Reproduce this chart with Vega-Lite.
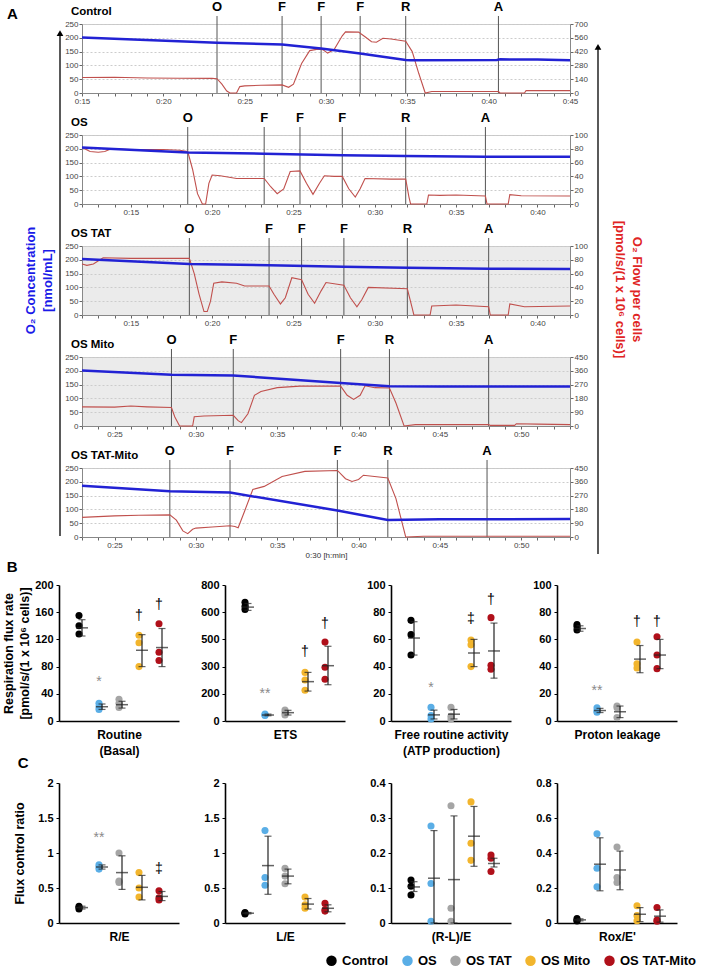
{
"$schema": "https://vega.github.io/schema/vega-lite/v6.json",
"padding": {"left": 2, "top": 0, "right": 0, "bottom": 0},
"background": "white",
"datasets": {
"pts": [
{"m":"Routine","g":"Control","v":155},{"m":"Routine","g":"Control","v":140},{"m":"Routine","g":"Control","v":128},
{"m":"Routine","g":"OS","v":26},{"m":"Routine","g":"OS","v":21},{"m":"Routine","g":"OS","v":17},
{"m":"Routine","g":"OS TAT","v":32},{"m":"Routine","g":"OS TAT","v":26},{"m":"Routine","g":"OS TAT","v":20},
{"m":"Routine","g":"OS Mito","v":126},{"m":"Routine","g":"OS Mito","v":115},{"m":"Routine","g":"OS Mito","v":80},
{"m":"Routine","g":"OS TAT-Mito","v":143},{"m":"Routine","g":"OS TAT-Mito","v":101},{"m":"Routine","g":"OS TAT-Mito","v":89},
{"m":"ETS","g":"Control","v":655},{"m":"ETS","g":"Control","v":632},{"m":"ETS","g":"Control","v":615},
{"m":"ETS","g":"OS","v":38},{"m":"ETS","g":"OS","v":33},{"m":"ETS","g":"OS","v":30},
{"m":"ETS","g":"OS TAT","v":60},{"m":"ETS","g":"OS TAT","v":46},{"m":"ETS","g":"OS TAT","v":33},
{"m":"ETS","g":"OS Mito","v":268},{"m":"ETS","g":"OS Mito","v":226},{"m":"ETS","g":"OS Mito","v":170},
{"m":"ETS","g":"OS TAT-Mito","v":435},{"m":"ETS","g":"OS TAT-Mito","v":296},{"m":"ETS","g":"OS TAT-Mito","v":230},
{"m":"FRA","g":"Control","v":74},{"m":"FRA","g":"Control","v":63.5},{"m":"FRA","g":"Control","v":48.5},
{"m":"FRA","g":"OS","v":10},{"m":"FRA","g":"OS","v":4},{"m":"FRA","g":"OS","v":1.5},
{"m":"FRA","g":"OS TAT","v":10},{"m":"FRA","g":"OS TAT","v":3.5},{"m":"FRA","g":"OS TAT","v":1.5},
{"m":"FRA","g":"OS Mito","v":59.5},{"m":"FRA","g":"OS Mito","v":56},{"m":"FRA","g":"OS Mito","v":40},
{"m":"FRA","g":"OS TAT-Mito","v":76},{"m":"FRA","g":"OS TAT-Mito","v":41},{"m":"FRA","g":"OS TAT-Mito","v":38},
{"m":"PL","g":"Control","v":71},{"m":"PL","g":"Control","v":69.5},{"m":"PL","g":"Control","v":67},
{"m":"PL","g":"OS","v":9.8},{"m":"PL","g":"OS","v":7.5},{"m":"PL","g":"OS","v":6.5},
{"m":"PL","g":"OS TAT","v":11},{"m":"PL","g":"OS TAT","v":9.8},{"m":"PL","g":"OS TAT","v":2.5},
{"m":"PL","g":"OS Mito","v":58},{"m":"PL","g":"OS Mito","v":42},{"m":"PL","g":"OS Mito","v":39},
{"m":"PL","g":"OS TAT-Mito","v":62},{"m":"PL","g":"OS TAT-Mito","v":48.5},{"m":"PL","g":"OS TAT-Mito","v":38.5},
{"m":"RE","g":"Control","v":0.24},{"m":"RE","g":"Control","v":0.22},{"m":"RE","g":"Control","v":0.2},
{"m":"RE","g":"OS","v":0.83},{"m":"RE","g":"OS","v":0.8},{"m":"RE","g":"OS","v":0.77},
{"m":"RE","g":"OS TAT","v":1.0},{"m":"RE","g":"OS TAT","v":0.6},{"m":"RE","g":"OS TAT","v":0.58},
{"m":"RE","g":"OS Mito","v":0.72},{"m":"RE","g":"OS Mito","v":0.5},{"m":"RE","g":"OS Mito","v":0.37},
{"m":"RE","g":"OS TAT-Mito","v":0.46},{"m":"RE","g":"OS TAT-Mito","v":0.36},{"m":"RE","g":"OS TAT-Mito","v":0.33},
{"m":"LE","g":"Control","v":0.15},{"m":"LE","g":"Control","v":0.14},{"m":"LE","g":"Control","v":0.13},
{"m":"LE","g":"OS","v":1.32},{"m":"LE","g":"OS","v":0.65},{"m":"LE","g":"OS","v":0.54},
{"m":"LE","g":"OS TAT","v":0.78},{"m":"LE","g":"OS TAT","v":0.67},{"m":"LE","g":"OS TAT","v":0.56},
{"m":"LE","g":"OS Mito","v":0.37},{"m":"LE","g":"OS Mito","v":0.26},{"m":"LE","g":"OS Mito","v":0.21},
{"m":"LE","g":"OS TAT-Mito","v":0.28},{"m":"LE","g":"OS TAT-Mito","v":0.19},{"m":"LE","g":"OS TAT-Mito","v":0.17},
{"m":"RLE","g":"Control","v":0.123},{"m":"RLE","g":"Control","v":0.105},{"m":"RLE","g":"Control","v":0.08},
{"m":"RLE","g":"OS","v":0.277},{"m":"RLE","g":"OS","v":0.113},{"m":"RLE","g":"OS","v":0.005},
{"m":"RLE","g":"OS TAT","v":0.335},{"m":"RLE","g":"OS TAT","v":0.042},{"m":"RLE","g":"OS TAT","v":0.005},
{"m":"RLE","g":"OS Mito","v":0.346},{"m":"RLE","g":"OS Mito","v":0.228},{"m":"RLE","g":"OS Mito","v":0.179},
{"m":"RLE","g":"OS TAT-Mito","v":0.194},{"m":"RLE","g":"OS TAT-Mito","v":0.185},{"m":"RLE","g":"OS TAT-Mito","v":0.147},
{"m":"ROX","g":"Control","v":0.025},{"m":"ROX","g":"Control","v":0.015},{"m":"ROX","g":"Control","v":0.012},
{"m":"ROX","g":"OS","v":0.51},{"m":"ROX","g":"OS","v":0.313},{"m":"ROX","g":"OS","v":0.207},
{"m":"ROX","g":"OS TAT","v":0.434},{"m":"ROX","g":"OS TAT","v":0.26},{"m":"ROX","g":"OS TAT","v":0.231},
{"m":"ROX","g":"OS Mito","v":0.099},{"m":"ROX","g":"OS Mito","v":0.042},{"m":"ROX","g":"OS Mito","v":0.013},
{"m":"ROX","g":"OS TAT-Mito","v":0.089},{"m":"ROX","g":"OS TAT-Mito","v":0.017},{"m":"ROX","g":"OS TAT-Mito","v":0.01}
],
"sum": [
{"m":"Routine","g":"Control","v":137,"lo":125,"hi":149},{"m":"Routine","g":"OS","v":21,"lo":17,"hi":25},{"m":"Routine","g":"OS TAT","v":24,"lo":19,"hi":29},{"m":"Routine","g":"OS Mito","v":104,"lo":80,"hi":127},{"m":"Routine","g":"OS TAT-Mito","v":108,"lo":80,"hi":136},
{"m":"ETS","g":"Control","v":628,"lo":610,"hi":648},{"m":"ETS","g":"OS","v":33,"lo":29,"hi":38},{"m":"ETS","g":"OS TAT","v":46,"lo":33,"hi":59},{"m":"ETS","g":"OS Mito","v":217,"lo":165,"hi":268},{"m":"ETS","g":"OS TAT-Mito","v":305,"lo":200,"hi":412},
{"m":"FRA","g":"Control","v":61,"lo":48.5,"hi":73},{"m":"FRA","g":"OS","v":4.5,"lo":1.5,"hi":8},{"m":"FRA","g":"OS TAT","v":5,"lo":1.5,"hi":8.5},{"m":"FRA","g":"OS Mito","v":50,"lo":40,"hi":60},{"m":"FRA","g":"OS TAT-Mito","v":51.5,"lo":31.5,"hi":72},
{"m":"PL","g":"Control","v":68,"lo":66,"hi":70},{"m":"PL","g":"OS","v":7.7,"lo":6.2,"hi":9.3},{"m":"PL","g":"OS TAT","v":6.8,"lo":2.5,"hi":11},{"m":"PL","g":"OS Mito","v":45.5,"lo":35.5,"hi":55.5},{"m":"PL","g":"OS TAT-Mito","v":48.5,"lo":38.5,"hi":60},
{"m":"RE","g":"Control","v":0.22,"lo":0.2,"hi":0.24},{"m":"RE","g":"OS","v":0.8,"lo":0.77,"hi":0.83},{"m":"RE","g":"OS TAT","v":0.72,"lo":0.48,"hi":0.96},{"m":"RE","g":"OS Mito","v":0.51,"lo":0.33,"hi":0.68},{"m":"RE","g":"OS TAT-Mito","v":0.38,"lo":0.32,"hi":0.45},
{"m":"LE","g":"Control","v":0.14,"lo":0.13,"hi":0.15},{"m":"LE","g":"OS","v":0.82,"lo":0.41,"hi":1.24},{"m":"LE","g":"OS TAT","v":0.67,"lo":0.56,"hi":0.77},{"m":"LE","g":"OS Mito","v":0.27,"lo":0.2,"hi":0.35},{"m":"LE","g":"OS TAT-Mito","v":0.21,"lo":0.16,"hi":0.26},
{"m":"RLE","g":"Control","v":0.103,"lo":0.09,"hi":0.118},{"m":"RLE","g":"OS","v":0.128,"lo":0,"hi":0.264},{"m":"RLE","g":"OS TAT","v":0.124,"lo":0,"hi":0.306},{"m":"RLE","g":"OS Mito","v":0.248,"lo":0.162,"hi":0.333},{"m":"RLE","g":"OS TAT-Mito","v":0.17,"lo":0.16,"hi":0.185},
{"m":"ROX","g":"Control","v":0.018,"lo":0.012,"hi":0.024},{"m":"ROX","g":"OS","v":0.336,"lo":0.184,"hi":0.487},{"m":"ROX","g":"OS TAT","v":0.303,"lo":0.19,"hi":0.411},{"m":"ROX","g":"OS Mito","v":0.05,"lo":0.008,"hi":0.088},{"m":"ROX","g":"OS TAT-Mito","v":0.039,"lo":0.005,"hi":0.075}
],
"sig": [
{"m":"Routine","g":"OS","v":57,"s":"*"},{"m":"Routine","g":"OS Mito","v":155,"s":"†"},{"m":"Routine","g":"OS TAT-Mito","v":170,"s":"†"},
{"m":"ETS","g":"OS","v":148,"s":"**"},{"m":"ETS","g":"OS Mito","v":380,"s":"†"},{"m":"ETS","g":"OS TAT-Mito","v":537,"s":"†"},
{"m":"FRA","g":"OS","v":24.5,"s":"*"},{"m":"FRA","g":"OS Mito","v":75,"s":"‡"},{"m":"FRA","g":"OS TAT-Mito","v":89,"s":"†"},
{"m":"PL","g":"OS","v":22,"s":"**"},{"m":"PL","g":"OS Mito","v":72.5,"s":"†"},{"m":"PL","g":"OS TAT-Mito","v":72.5,"s":"†"},
{"m":"RE","g":"OS","v":1.22,"s":"**"},{"m":"RE","g":"OS TAT-Mito","v":0.77,"s":"‡"}
]
},
"spacing": 0,
"vconcat": [
{
"spacing": 0,
"hconcat": [
{
"width": 2, "height": 512,
"title": {"text": "A", "anchor": "start", "fontSize": 15, "fontWeight": "bold", "dx": -17, "offset": 2},
"data": {"values": [{"k": "O2 concentration axis"}]},
"encoding": {"x": {"datum": 0.5, "type": "quantitative", "scale": {"domain": [0, 1]}, "axis": null}},
"layer": [
{"mark": {"type": "rule", "color": "black", "strokeWidth": 1.3},
 "encoding": {"y": {"datum": 0, "type": "quantitative", "scale": {"domain": [0, 1], "nice": false}, "axis": {"title": ["O₂ Concentration", "[nmol/mL]"], "titleColor": "#1a1ae8", "titleFontSize": 13, "titleFontWeight": "bold", "titlePadding": 5, "titleLineHeight": 17, "labels": false, "ticks": false, "domain": false, "grid": false}}, "y2": {"datum": 0.982}}},
{"mark": {"type": "point", "shape": "triangle-up", "filled": true, "color": "black", "size": 45, "opacity": 1},
 "encoding": {"y": {"datum": 0.982, "type": "quantitative"}}}
]
},
{
"spacing": 5,
"vconcat": [
{
"width": 488, "height": 69,
"view": {"stroke": "#c8c8c8"},
"layer": [
{"data": {"values": [{"panel": "Control"}]}, "mark": {"type": "text", "fontSize": 11.5, "fontWeight": "bold", "align": "left", "baseline": "middle", "color": "black"},
 "encoding": {"x": {"datum": 14.32, "type": "quantitative", "scale": {"domain": [15, 45], "nice": false, "zero": false}, "axis": {"title": null, "grid": false, "values": [15,16,17,18,19,20,21,22,23,24,25,26,27,28,29,30,31,32,33,34,35,36,37,38,39,40,41,42,43,44,45], "labelExpr": "datum.value % 5 === 0 ? '0:' + format(datum.value, '02d') : ''", "labelFontSize": 8, "labelColor": "#444", "tickSize": 3, "tickColor": "#666", "domainColor": "#888", "labelPadding": 1, "labelOverlap": false, "labelFlush": false}}, "y": {"datum": 293, "type": "quantitative", "scale": {"domain": [0, 250], "nice": false}, "axis": null}, "text": {"field": "panel"}}},
{"data": {"values": [{"t":23.3,"lab":"O"},{"t":27.3,"lab":"F"},{"t":29.7,"lab":"F"},{"t":32.1,"lab":"F"},{"t":34.9,"lab":"R"},{"t":40.6,"lab":"A"}]},
 "mark": {"type": "rule", "color": "#555", "strokeWidth": 1},
 "encoding": {"x": {"field": "t", "type": "quantitative", "scale": {"domain": [15, 45], "nice": false, "zero": false}, "axis": {"title": null, "grid": false, "values": [15,16,17,18,19,20,21,22,23,24,25,26,27,28,29,30,31,32,33,34,35,36,37,38,39,40,41,42,43,44,45], "labelExpr": "datum.value % 5 === 0 ? '0:' + format(datum.value, '02d') : ''", "labelFontSize": 8, "labelColor": "#444", "tickSize": 3, "tickColor": "#666", "domainColor": "#888", "labelPadding": 1, "labelOverlap": false, "labelFlush": false}}, "y": {"datum": 0, "type": "quantitative", "scale": {"domain": [0, 250], "nice": false}, "axis": null}, "y2": {"datum": 279}}},
{"data": {"values": [{"t":23.3,"lab":"O"},{"t":27.3,"lab":"F"},{"t":29.7,"lab":"F"},{"t":32.1,"lab":"F"},{"t":34.9,"lab":"R"},{"t":40.6,"lab":"A"}]},
 "mark": {"type": "text", "fontSize": 13, "fontWeight": "bold", "baseline": "middle", "color": "black"},
 "encoding": {"x": {"field": "t", "type": "quantitative", "scale": {"domain": [15, 45], "nice": false, "zero": false}, "axis": {"title": null, "grid": false, "values": [15,16,17,18,19,20,21,22,23,24,25,26,27,28,29,30,31,32,33,34,35,36,37,38,39,40,41,42,43,44,45], "labelExpr": "datum.value % 5 === 0 ? '0:' + format(datum.value, '02d') : ''", "labelFontSize": 8, "labelColor": "#444", "tickSize": 3, "tickColor": "#666", "domainColor": "#888", "labelPadding": 1, "labelOverlap": false, "labelFlush": false}}, "y": {"datum": 312, "type": "quantitative", "scale": {"domain": [0, 250], "nice": false}, "axis": null}, "text": {"field": "lab"}}},
{"data": {"values": [{"t":15,"v":157},{"t":17,"v":160},{"t":19,"v":152},{"t":21,"v":150},{"t":23,"v":148},{"t":23.3,"v":145},{"t":23.6,"v":90},{"t":23.9,"v":20},{"t":24.1,"v":0},{"t":24.5,"v":0},{"t":24.7,"v":65},{"t":25,"v":72},{"t":26,"v":78},{"t":27.3,"v":82},{"t":27.7,"v":58},{"t":28,"v":90},{"t":28.5,"v":300},{"t":29,"v":430},{"t":29.5,"v":445},{"t":29.8,"v":440},{"t":30.1,"v":405},{"t":30.5,"v":440},{"t":31,"v":580},{"t":31.2,"v":620},{"t":32,"v":618},{"t":32.4,"v":570},{"t":32.8,"v":520},{"t":33.1,"v":515},{"t":33.5,"v":555},{"t":34,"v":548},{"t":34.9,"v":525},{"t":35.3,"v":420},{"t":35.7,"v":200},{"t":36.1,"v":0},{"t":36.5,"v":15},{"t":40.6,"v":15},{"t":40.7,"v":0},{"t":42.2,"v":0},{"t":42.3,"v":24},{"t":45,"v":24}]},
 "mark": {"type": "line", "color": "#c0504d", "strokeWidth": 1.1},
 "encoding": {"x": {"field": "t", "type": "quantitative", "scale": {"domain": [15, 45], "nice": false, "zero": false}, "axis": {"title": null, "grid": false, "values": [15,16,17,18,19,20,21,22,23,24,25,26,27,28,29,30,31,32,33,34,35,36,37,38,39,40,41,42,43,44,45], "labelExpr": "datum.value % 5 === 0 ? '0:' + format(datum.value, '02d') : ''", "labelFontSize": 8, "labelColor": "#444", "tickSize": 3, "tickColor": "#666", "domainColor": "#888", "labelPadding": 1, "labelOverlap": false, "labelFlush": false}},
  "y": {"field": "v", "type": "quantitative", "scale": {"domain": [0, 700], "nice": false}, "axis": {"orient": "right", "title": null, "values": [0,140,280,420,560,700], "labelFontSize": 8, "labelColor": "#444", "tickSize": 3, "tickColor": "#666", "domainColor": "#888", "labelPadding": 1, "grid": false}}}},
{"data": {"values": [{"t":15,"v":201},{"t":23.3,"v":182},{"t":27.3,"v":176},{"t":29.7,"v":161},{"t":32.1,"v":143},{"t":34.9,"v":120},{"t":35.2,"v":119},{"t":40.5,"v":120},{"t":40.7,"v":122},{"t":43,"v":121},{"t":45,"v":119}]},
 "mark": {"type": "line", "color": "#2222d4", "strokeWidth": 2.5},
 "encoding": {"x": {"field": "t", "type": "quantitative", "scale": {"domain": [15, 45], "nice": false, "zero": false}, "axis": {"title": null, "grid": false, "values": [15,16,17,18,19,20,21,22,23,24,25,26,27,28,29,30,31,32,33,34,35,36,37,38,39,40,41,42,43,44,45], "labelExpr": "datum.value % 5 === 0 ? '0:' + format(datum.value, '02d') : ''", "labelFontSize": 8, "labelColor": "#444", "tickSize": 3, "tickColor": "#666", "domainColor": "#888", "labelPadding": 1, "labelOverlap": false, "labelFlush": false}}, "y": {"field": "v", "type": "quantitative", "scale": {"domain": [0, 250], "nice": false}, "axis": {"title": null, "values": [0,50,100,150,200,250], "labelFontSize": 8, "labelColor": "#444", "tickSize": 3, "tickColor": "#666", "domainColor": "#888", "labelPadding": 1, "grid": true, "gridColor": "#cccccc", "gridDash": [2, 2]}}}}
],
"resolve": {"scale": {"y": "independent"}}
},
{
"width": 488, "height": 69,
"view": {"stroke": "#c8c8c8"},
"layer": [
{"data": {"values": [{"panel": "OS"}]}, "mark": {"type": "text", "fontSize": 11.5, "fontWeight": "bold", "align": "left", "baseline": "middle", "color": "black"},
 "encoding": {"x": {"datum": 11.32, "type": "quantitative", "scale": {"domain": [12, 42], "nice": false, "zero": false}, "axis": {"title": null, "grid": false, "values": [12,13,14,15,16,17,18,19,20,21,22,23,24,25,26,27,28,29,30,31,32,33,34,35,36,37,38,39,40,41,42], "labelExpr": "datum.value % 5 === 0 ? '0:' + format(datum.value, '02d') : ''", "labelFontSize": 8, "labelColor": "#444", "tickSize": 3, "tickColor": "#666", "domainColor": "#888", "labelPadding": 1, "labelOverlap": false, "labelFlush": false}}, "y": {"datum": 293, "type": "quantitative", "scale": {"domain": [0, 250], "nice": false}, "axis": null}, "text": {"field": "panel"}}},
{"data": {"values": [{"t":18.5,"lab":"O"},{"t":23.2,"lab":"F"},{"t":25.4,"lab":"F"},{"t":28.0,"lab":"F"},{"t":31.9,"lab":"R"},{"t":36.8,"lab":"A"}]},
 "mark": {"type": "rule", "color": "#555", "strokeWidth": 1},
 "encoding": {"x": {"field": "t", "type": "quantitative", "scale": {"domain": [12, 42], "nice": false, "zero": false}, "axis": {"title": null, "grid": false, "values": [12,13,14,15,16,17,18,19,20,21,22,23,24,25,26,27,28,29,30,31,32,33,34,35,36,37,38,39,40,41,42], "labelExpr": "datum.value % 5 === 0 ? '0:' + format(datum.value, '02d') : ''", "labelFontSize": 8, "labelColor": "#444", "tickSize": 3, "tickColor": "#666", "domainColor": "#888", "labelPadding": 1, "labelOverlap": false, "labelFlush": false}}, "y": {"datum": 0, "type": "quantitative", "scale": {"domain": [0, 250], "nice": false}, "axis": null}, "y2": {"datum": 279}}},
{"data": {"values": [{"t":18.5,"lab":"O"},{"t":23.2,"lab":"F"},{"t":25.4,"lab":"F"},{"t":28.0,"lab":"F"},{"t":31.9,"lab":"R"},{"t":36.8,"lab":"A"}]},
 "mark": {"type": "text", "fontSize": 13, "fontWeight": "bold", "baseline": "middle", "color": "black"},
 "encoding": {"x": {"field": "t", "type": "quantitative", "scale": {"domain": [12, 42], "nice": false, "zero": false}, "axis": {"title": null, "grid": false, "values": [12,13,14,15,16,17,18,19,20,21,22,23,24,25,26,27,28,29,30,31,32,33,34,35,36,37,38,39,40,41,42], "labelExpr": "datum.value % 5 === 0 ? '0:' + format(datum.value, '02d') : ''", "labelFontSize": 8, "labelColor": "#444", "tickSize": 3, "tickColor": "#666", "domainColor": "#888", "labelPadding": 1, "labelOverlap": false, "labelFlush": false}}, "y": {"datum": 312, "type": "quantitative", "scale": {"domain": [0, 250], "nice": false}, "axis": null}, "text": {"field": "lab"}}},
{"data": {"values": [{"t":12,"v":82},{"t":12.5,"v":76},{"t":13,"v":75},{"t":13.4,"v":76},{"t":13.8,"v":80},{"t":15,"v":79},{"t":17,"v":79},{"t":18,"v":78},{"t":18.5,"v":76},{"t":18.8,"v":50},{"t":19.1,"v":15},{"t":19.4,"v":0},{"t":19.6,"v":0},{"t":19.8,"v":30},{"t":20,"v":42},{"t":20.5,"v":41},{"t":21.5,"v":37},{"t":22.5,"v":37},{"t":23.2,"v":37},{"t":23.6,"v":25},{"t":24,"v":15},{"t":24.4,"v":22},{"t":24.8,"v":47},{"t":25.4,"v":48},{"t":25.8,"v":30},{"t":26.2,"v":14},{"t":26.6,"v":30},{"t":26.9,"v":41},{"t":27.5,"v":40},{"t":28,"v":40},{"t":28.4,"v":22},{"t":28.8,"v":10},{"t":29.1,"v":22},{"t":29.4,"v":37},{"t":31,"v":36},{"t":31.9,"v":36},{"t":32.1,"v":10},{"t":32.2,"v":0},{"t":33.2,"v":0},{"t":33.3,"v":13},{"t":34,"v":12.5},{"t":35,"v":13},{"t":36.8,"v":11.5},{"t":36.9,"v":0},{"t":38.2,"v":0},{"t":38.3,"v":13.5},{"t":39,"v":12},{"t":42,"v":11.5}]},
 "mark": {"type": "line", "color": "#c0504d", "strokeWidth": 1.1},
 "encoding": {"x": {"field": "t", "type": "quantitative", "scale": {"domain": [12, 42], "nice": false, "zero": false}, "axis": {"title": null, "grid": false, "values": [12,13,14,15,16,17,18,19,20,21,22,23,24,25,26,27,28,29,30,31,32,33,34,35,36,37,38,39,40,41,42], "labelExpr": "datum.value % 5 === 0 ? '0:' + format(datum.value, '02d') : ''", "labelFontSize": 8, "labelColor": "#444", "tickSize": 3, "tickColor": "#666", "domainColor": "#888", "labelPadding": 1, "labelOverlap": false, "labelFlush": false}},
  "y": {"field": "v", "type": "quantitative", "scale": {"domain": [0, 100], "nice": false}, "axis": {"orient": "right", "title": null, "values": [0,20,40,60,80,100], "labelFontSize": 8, "labelColor": "#444", "tickSize": 3, "tickColor": "#666", "domainColor": "#888", "labelPadding": 1, "grid": false}}}},
{"data": {"values": [{"t":12,"v":205},{"t":18.5,"v":187},{"t":23.2,"v":182},{"t":28,"v":177},{"t":31.9,"v":173.5},{"t":36.8,"v":171},{"t":42,"v":171}]},
 "mark": {"type": "line", "color": "#2222d4", "strokeWidth": 2.5},
 "encoding": {"x": {"field": "t", "type": "quantitative", "scale": {"domain": [12, 42], "nice": false, "zero": false}, "axis": {"title": null, "grid": false, "values": [12,13,14,15,16,17,18,19,20,21,22,23,24,25,26,27,28,29,30,31,32,33,34,35,36,37,38,39,40,41,42], "labelExpr": "datum.value % 5 === 0 ? '0:' + format(datum.value, '02d') : ''", "labelFontSize": 8, "labelColor": "#444", "tickSize": 3, "tickColor": "#666", "domainColor": "#888", "labelPadding": 1, "labelOverlap": false, "labelFlush": false}}, "y": {"field": "v", "type": "quantitative", "scale": {"domain": [0, 250], "nice": false}, "axis": {"title": null, "values": [0,50,100,150,200,250], "labelFontSize": 8, "labelColor": "#444", "tickSize": 3, "tickColor": "#666", "domainColor": "#888", "labelPadding": 1, "grid": true, "gridColor": "#cccccc", "gridDash": [2, 2]}}}}
],
"resolve": {"scale": {"y": "independent"}}
},
{
"width": 488, "height": 69,
"view": {"stroke": "#c8c8c8", "fill": "#ebebeb"},
"layer": [
{"data": {"values": [{"panel": "OS TAT"}]}, "mark": {"type": "text", "fontSize": 11.5, "fontWeight": "bold", "align": "left", "baseline": "middle", "color": "black"},
 "encoding": {"x": {"datum": 11.32, "type": "quantitative", "scale": {"domain": [12, 42], "nice": false, "zero": false}, "axis": {"title": null, "grid": false, "values": [12,13,14,15,16,17,18,19,20,21,22,23,24,25,26,27,28,29,30,31,32,33,34,35,36,37,38,39,40,41,42], "labelExpr": "datum.value % 5 === 0 ? '0:' + format(datum.value, '02d') : ''", "labelFontSize": 8, "labelColor": "#444", "tickSize": 3, "tickColor": "#666", "domainColor": "#888", "labelPadding": 1, "labelOverlap": false, "labelFlush": false}}, "y": {"datum": 293, "type": "quantitative", "scale": {"domain": [0, 250], "nice": false}, "axis": null}, "text": {"field": "panel"}}},
{"data": {"values": [{"t":18.6,"lab":"O"},{"t":23.5,"lab":"F"},{"t":25.5,"lab":"F"},{"t":28.1,"lab":"F"},{"t":32.0,"lab":"R"},{"t":37.0,"lab":"A"}]},
 "mark": {"type": "rule", "color": "#555", "strokeWidth": 1},
 "encoding": {"x": {"field": "t", "type": "quantitative", "scale": {"domain": [12, 42], "nice": false, "zero": false}, "axis": {"title": null, "grid": false, "values": [12,13,14,15,16,17,18,19,20,21,22,23,24,25,26,27,28,29,30,31,32,33,34,35,36,37,38,39,40,41,42], "labelExpr": "datum.value % 5 === 0 ? '0:' + format(datum.value, '02d') : ''", "labelFontSize": 8, "labelColor": "#444", "tickSize": 3, "tickColor": "#666", "domainColor": "#888", "labelPadding": 1, "labelOverlap": false, "labelFlush": false}}, "y": {"datum": 0, "type": "quantitative", "scale": {"domain": [0, 250], "nice": false}, "axis": null}, "y2": {"datum": 279}}},
{"data": {"values": [{"t":18.6,"lab":"O"},{"t":23.5,"lab":"F"},{"t":25.5,"lab":"F"},{"t":28.1,"lab":"F"},{"t":32.0,"lab":"R"},{"t":37.0,"lab":"A"}]},
 "mark": {"type": "text", "fontSize": 13, "fontWeight": "bold", "baseline": "middle", "color": "black"},
 "encoding": {"x": {"field": "t", "type": "quantitative", "scale": {"domain": [12, 42], "nice": false, "zero": false}, "axis": {"title": null, "grid": false, "values": [12,13,14,15,16,17,18,19,20,21,22,23,24,25,26,27,28,29,30,31,32,33,34,35,36,37,38,39,40,41,42], "labelExpr": "datum.value % 5 === 0 ? '0:' + format(datum.value, '02d') : ''", "labelFontSize": 8, "labelColor": "#444", "tickSize": 3, "tickColor": "#666", "domainColor": "#888", "labelPadding": 1, "labelOverlap": false, "labelFlush": false}}, "y": {"datum": 312, "type": "quantitative", "scale": {"domain": [0, 250], "nice": false}, "axis": null}, "text": {"field": "lab"}}},
{"data": {"values": [{"t":12,"v":74},{"t":12.3,"v":72},{"t":12.7,"v":74},{"t":13.3,"v":83},{"t":15,"v":82},{"t":17,"v":82},{"t":18.6,"v":82},{"t":18.9,"v":60},{"t":19.2,"v":30},{"t":19.5,"v":5},{"t":19.7,"v":5},{"t":19.9,"v":20},{"t":20.1,"v":46},{"t":20.6,"v":48},{"t":21.5,"v":46},{"t":22,"v":42},{"t":23.5,"v":42},{"t":23.8,"v":30},{"t":24.2,"v":16},{"t":24.5,"v":25},{"t":24.9,"v":54},{"t":25.5,"v":51},{"t":25.9,"v":30},{"t":26.3,"v":17},{"t":26.7,"v":35},{"t":27,"v":47},{"t":28.1,"v":43},{"t":28.5,"v":25},{"t":28.9,"v":12},{"t":29.2,"v":22},{"t":29.6,"v":40},{"t":32,"v":38},{"t":32.3,"v":10},{"t":32.4,"v":0},{"t":33.4,"v":0},{"t":33.5,"v":13},{"t":35,"v":14.5},{"t":37,"v":12},{"t":37.1,"v":0},{"t":38.2,"v":0},{"t":38.3,"v":16},{"t":39.2,"v":12},{"t":42,"v":13}]},
 "mark": {"type": "line", "color": "#c0504d", "strokeWidth": 1.1},
 "encoding": {"x": {"field": "t", "type": "quantitative", "scale": {"domain": [12, 42], "nice": false, "zero": false}, "axis": {"title": null, "grid": false, "values": [12,13,14,15,16,17,18,19,20,21,22,23,24,25,26,27,28,29,30,31,32,33,34,35,36,37,38,39,40,41,42], "labelExpr": "datum.value % 5 === 0 ? '0:' + format(datum.value, '02d') : ''", "labelFontSize": 8, "labelColor": "#444", "tickSize": 3, "tickColor": "#666", "domainColor": "#888", "labelPadding": 1, "labelOverlap": false, "labelFlush": false}},
  "y": {"field": "v", "type": "quantitative", "scale": {"domain": [0, 100], "nice": false}, "axis": {"orient": "right", "title": null, "values": [0,20,40,60,80,100], "labelFontSize": 8, "labelColor": "#444", "tickSize": 3, "tickColor": "#666", "domainColor": "#888", "labelPadding": 1, "grid": false}}}},
{"data": {"values": [{"t":12,"v":203},{"t":18.6,"v":185},{"t":23.5,"v":180},{"t":28.1,"v":175},{"t":32,"v":171},{"t":37,"v":168},{"t":42,"v":167}]},
 "mark": {"type": "line", "color": "#2222d4", "strokeWidth": 2.5},
 "encoding": {"x": {"field": "t", "type": "quantitative", "scale": {"domain": [12, 42], "nice": false, "zero": false}, "axis": {"title": null, "grid": false, "values": [12,13,14,15,16,17,18,19,20,21,22,23,24,25,26,27,28,29,30,31,32,33,34,35,36,37,38,39,40,41,42], "labelExpr": "datum.value % 5 === 0 ? '0:' + format(datum.value, '02d') : ''", "labelFontSize": 8, "labelColor": "#444", "tickSize": 3, "tickColor": "#666", "domainColor": "#888", "labelPadding": 1, "labelOverlap": false, "labelFlush": false}}, "y": {"field": "v", "type": "quantitative", "scale": {"domain": [0, 250], "nice": false}, "axis": {"title": null, "values": [0,50,100,150,200,250], "labelFontSize": 8, "labelColor": "#444", "tickSize": 3, "tickColor": "#666", "domainColor": "#888", "labelPadding": 1, "grid": true, "gridColor": "#cccccc", "gridDash": [2, 2]}}}}
],
"resolve": {"scale": {"y": "independent"}}
},
{
"width": 488, "height": 69,
"view": {"stroke": "#c8c8c8", "fill": "#ebebeb"},
"layer": [
{"data": {"values": [{"panel": "OS Mito"}]}, "mark": {"type": "text", "fontSize": 11.5, "fontWeight": "bold", "align": "left", "baseline": "middle", "color": "black"},
 "encoding": {"x": {"datum": 22.32, "type": "quantitative", "scale": {"domain": [23, 53], "nice": false, "zero": false}, "axis": {"title": null, "grid": false, "values": [23,24,25,26,27,28,29,30,31,32,33,34,35,36,37,38,39,40,41,42,43,44,45,46,47,48,49,50,51,52,53], "labelExpr": "datum.value % 5 === 0 ? '0:' + format(datum.value, '02d') : ''", "labelFontSize": 8, "labelColor": "#444", "tickSize": 3, "tickColor": "#666", "domainColor": "#888", "labelPadding": 1, "labelOverlap": false, "labelFlush": false}}, "y": {"datum": 293, "type": "quantitative", "scale": {"domain": [0, 250], "nice": false}, "axis": null}, "text": {"field": "panel"}}},
{"data": {"values": [{"t":28.5,"lab":"O"},{"t":32.3,"lab":"F"},{"t":38.9,"lab":"F"},{"t":41.9,"lab":"R"},{"t":48.0,"lab":"A"}]},
 "mark": {"type": "rule", "color": "#555", "strokeWidth": 1},
 "encoding": {"x": {"field": "t", "type": "quantitative", "scale": {"domain": [23, 53], "nice": false, "zero": false}, "axis": {"title": null, "grid": false, "values": [23,24,25,26,27,28,29,30,31,32,33,34,35,36,37,38,39,40,41,42,43,44,45,46,47,48,49,50,51,52,53], "labelExpr": "datum.value % 5 === 0 ? '0:' + format(datum.value, '02d') : ''", "labelFontSize": 8, "labelColor": "#444", "tickSize": 3, "tickColor": "#666", "domainColor": "#888", "labelPadding": 1, "labelOverlap": false, "labelFlush": false}}, "y": {"datum": 0, "type": "quantitative", "scale": {"domain": [0, 250], "nice": false}, "axis": null}, "y2": {"datum": 279}}},
{"data": {"values": [{"t":28.5,"lab":"O"},{"t":32.3,"lab":"F"},{"t":38.9,"lab":"F"},{"t":41.9,"lab":"R"},{"t":48.0,"lab":"A"}]},
 "mark": {"type": "text", "fontSize": 13, "fontWeight": "bold", "baseline": "middle", "color": "black"},
 "encoding": {"x": {"field": "t", "type": "quantitative", "scale": {"domain": [23, 53], "nice": false, "zero": false}, "axis": {"title": null, "grid": false, "values": [23,24,25,26,27,28,29,30,31,32,33,34,35,36,37,38,39,40,41,42,43,44,45,46,47,48,49,50,51,52,53], "labelExpr": "datum.value % 5 === 0 ? '0:' + format(datum.value, '02d') : ''", "labelFontSize": 8, "labelColor": "#444", "tickSize": 3, "tickColor": "#666", "domainColor": "#888", "labelPadding": 1, "labelOverlap": false, "labelFlush": false}}, "y": {"datum": 312, "type": "quantitative", "scale": {"domain": [0, 250], "nice": false}, "axis": null}, "text": {"field": "lab"}}},
{"data": {"values": [{"t":23,"v":125},{"t":25,"v":123},{"t":26,"v":130},{"t":27,"v":125},{"t":28.5,"v":121},{"t":28.7,"v":60},{"t":29,"v":0},{"t":29.8,"v":0},{"t":29.9,"v":60},{"t":30.5,"v":65},{"t":32.3,"v":70},{"t":32.6,"v":35},{"t":32.8,"v":22},{"t":33.2,"v":80},{"t":33.6,"v":200},{"t":34,"v":225},{"t":35,"v":250},{"t":36.4,"v":260},{"t":38.9,"v":260},{"t":39.3,"v":200},{"t":39.7,"v":173},{"t":40.1,"v":200},{"t":40.4,"v":262},{"t":41,"v":250},{"t":41.9,"v":248},{"t":42.3,"v":150},{"t":42.8,"v":0},{"t":43.5,"v":9},{"t":48,"v":9},{"t":48.1,"v":4},{"t":49.6,"v":4},{"t":49.7,"v":15},{"t":51,"v":12},{"t":53,"v":9}]},
 "mark": {"type": "line", "color": "#c0504d", "strokeWidth": 1.1},
 "encoding": {"x": {"field": "t", "type": "quantitative", "scale": {"domain": [23, 53], "nice": false, "zero": false}, "axis": {"title": null, "grid": false, "values": [23,24,25,26,27,28,29,30,31,32,33,34,35,36,37,38,39,40,41,42,43,44,45,46,47,48,49,50,51,52,53], "labelExpr": "datum.value % 5 === 0 ? '0:' + format(datum.value, '02d') : ''", "labelFontSize": 8, "labelColor": "#444", "tickSize": 3, "tickColor": "#666", "domainColor": "#888", "labelPadding": 1, "labelOverlap": false, "labelFlush": false}},
  "y": {"field": "v", "type": "quantitative", "scale": {"domain": [0, 450], "nice": false}, "axis": {"orient": "right", "title": null, "values": [0,90,180,270,360,450], "labelFontSize": 8, "labelColor": "#444", "tickSize": 3, "tickColor": "#666", "domainColor": "#888", "labelPadding": 1, "grid": false}}}},
{"data": {"values": [{"t":23,"v":201},{"t":28.5,"v":186},{"t":32.3,"v":183},{"t":38.9,"v":156},{"t":41.9,"v":144},{"t":45,"v":143},{"t":53,"v":143}]},
 "mark": {"type": "line", "color": "#2222d4", "strokeWidth": 2.5},
 "encoding": {"x": {"field": "t", "type": "quantitative", "scale": {"domain": [23, 53], "nice": false, "zero": false}, "axis": {"title": null, "grid": false, "values": [23,24,25,26,27,28,29,30,31,32,33,34,35,36,37,38,39,40,41,42,43,44,45,46,47,48,49,50,51,52,53], "labelExpr": "datum.value % 5 === 0 ? '0:' + format(datum.value, '02d') : ''", "labelFontSize": 8, "labelColor": "#444", "tickSize": 3, "tickColor": "#666", "domainColor": "#888", "labelPadding": 1, "labelOverlap": false, "labelFlush": false}}, "y": {"field": "v", "type": "quantitative", "scale": {"domain": [0, 250], "nice": false}, "axis": {"title": null, "values": [0,50,100,150,200,250], "labelFontSize": 8, "labelColor": "#444", "tickSize": 3, "tickColor": "#666", "domainColor": "#888", "labelPadding": 1, "grid": true, "gridColor": "#cccccc", "gridDash": [2, 2]}}}}
],
"resolve": {"scale": {"y": "independent"}}
},
{
"width": 488, "height": 69,
"view": {"stroke": "#c8c8c8"},
"layer": [
{"data": {"values": [{"panel": "OS TAT-Mito"}]}, "mark": {"type": "text", "fontSize": 11.5, "fontWeight": "bold", "align": "left", "baseline": "middle", "color": "black"},
 "encoding": {"x": {"datum": 22.32, "type": "quantitative", "scale": {"domain": [23, 53], "nice": false, "zero": false}, "axis": {"title": "0:30 [h:min]", "titleFontSize": 8, "titleFontWeight": "normal", "titleColor": "#333", "titlePadding": 2, "grid": false, "values": [23,24,25,26,27,28,29,30,31,32,33,34,35,36,37,38,39,40,41,42,43,44,45,46,47,48,49,50,51,52,53], "labelExpr": "datum.value % 5 === 0 ? '0:' + format(datum.value, '02d') : ''", "labelFontSize": 8, "labelColor": "#444", "tickSize": 3, "tickColor": "#666", "domainColor": "#888", "labelPadding": 1, "labelOverlap": false, "labelFlush": false}}, "y": {"datum": 293, "type": "quantitative", "scale": {"domain": [0, 250], "nice": false}, "axis": null}, "text": {"field": "panel"}}},
{"data": {"values": [{"t":28.4,"lab":"O"},{"t":32.1,"lab":"F"},{"t":38.7,"lab":"F"},{"t":41.8,"lab":"R"},{"t":47.9,"lab":"A"}]},
 "mark": {"type": "rule", "color": "#555", "strokeWidth": 1},
 "encoding": {"x": {"field": "t", "type": "quantitative", "scale": {"domain": [23, 53], "nice": false, "zero": false}, "axis": {"title": "0:30 [h:min]", "titleFontSize": 8, "titleFontWeight": "normal", "titleColor": "#333", "titlePadding": 2, "grid": false, "values": [23,24,25,26,27,28,29,30,31,32,33,34,35,36,37,38,39,40,41,42,43,44,45,46,47,48,49,50,51,52,53], "labelExpr": "datum.value % 5 === 0 ? '0:' + format(datum.value, '02d') : ''", "labelFontSize": 8, "labelColor": "#444", "tickSize": 3, "tickColor": "#666", "domainColor": "#888", "labelPadding": 1, "labelOverlap": false, "labelFlush": false}}, "y": {"datum": 0, "type": "quantitative", "scale": {"domain": [0, 250], "nice": false}, "axis": null}, "y2": {"datum": 279}}},
{"data": {"values": [{"t":28.4,"lab":"O"},{"t":32.1,"lab":"F"},{"t":38.7,"lab":"F"},{"t":41.8,"lab":"R"},{"t":47.9,"lab":"A"}]},
 "mark": {"type": "text", "fontSize": 13, "fontWeight": "bold", "baseline": "middle", "color": "black"},
 "encoding": {"x": {"field": "t", "type": "quantitative", "scale": {"domain": [23, 53], "nice": false, "zero": false}, "axis": {"title": "0:30 [h:min]", "titleFontSize": 8, "titleFontWeight": "normal", "titleColor": "#333", "titlePadding": 2, "grid": false, "values": [23,24,25,26,27,28,29,30,31,32,33,34,35,36,37,38,39,40,41,42,43,44,45,46,47,48,49,50,51,52,53], "labelExpr": "datum.value % 5 === 0 ? '0:' + format(datum.value, '02d') : ''", "labelFontSize": 8, "labelColor": "#444", "tickSize": 3, "tickColor": "#666", "domainColor": "#888", "labelPadding": 1, "labelOverlap": false, "labelFlush": false}}, "y": {"datum": 312, "type": "quantitative", "scale": {"domain": [0, 250], "nice": false}, "axis": null}, "text": {"field": "lab"}}},
{"data": {"values": [{"t":23,"v":128},{"t":25,"v":138},{"t":26.5,"v":142},{"t":28.4,"v":144},{"t":28.8,"v":110},{"t":29.2,"v":40},{"t":29.5,"v":22},{"t":29.8,"v":50},{"t":30,"v":58},{"t":31,"v":65},{"t":32.1,"v":73},{"t":32.4,"v":68},{"t":32.6,"v":60},{"t":33,"v":170},{"t":33.5,"v":310},{"t":34.2,"v":330},{"t":35.3,"v":394},{"t":36.7,"v":428},{"t":38.7,"v":434},{"t":39.2,"v":380},{"t":39.6,"v":362},{"t":40,"v":375},{"t":40.3,"v":403},{"t":41.8,"v":385},{"t":42.3,"v":250},{"t":42.9,"v":0},{"t":44,"v":5},{"t":53,"v":5}]},
 "mark": {"type": "line", "color": "#c0504d", "strokeWidth": 1.1},
 "encoding": {"x": {"field": "t", "type": "quantitative", "scale": {"domain": [23, 53], "nice": false, "zero": false}, "axis": {"title": "0:30 [h:min]", "titleFontSize": 8, "titleFontWeight": "normal", "titleColor": "#333", "titlePadding": 2, "grid": false, "values": [23,24,25,26,27,28,29,30,31,32,33,34,35,36,37,38,39,40,41,42,43,44,45,46,47,48,49,50,51,52,53], "labelExpr": "datum.value % 5 === 0 ? '0:' + format(datum.value, '02d') : ''", "labelFontSize": 8, "labelColor": "#444", "tickSize": 3, "tickColor": "#666", "domainColor": "#888", "labelPadding": 1, "labelOverlap": false, "labelFlush": false}},
  "y": {"field": "v", "type": "quantitative", "scale": {"domain": [0, 450], "nice": false}, "axis": {"orient": "right", "title": null, "values": [0,90,180,270,360,450], "labelFontSize": 8, "labelColor": "#444", "tickSize": 3, "tickColor": "#666", "domainColor": "#888", "labelPadding": 1, "grid": false}}}},
{"data": {"values": [{"t":23,"v":186},{"t":28.4,"v":166},{"t":32.1,"v":161},{"t":38.7,"v":96},{"t":41.8,"v":62},{"t":45,"v":64},{"t":53,"v":65}]},
 "mark": {"type": "line", "color": "#2222d4", "strokeWidth": 2.5},
 "encoding": {"x": {"field": "t", "type": "quantitative", "scale": {"domain": [23, 53], "nice": false, "zero": false}, "axis": {"title": "0:30 [h:min]", "titleFontSize": 8, "titleFontWeight": "normal", "titleColor": "#333", "titlePadding": 2, "grid": false, "values": [23,24,25,26,27,28,29,30,31,32,33,34,35,36,37,38,39,40,41,42,43,44,45,46,47,48,49,50,51,52,53], "labelExpr": "datum.value % 5 === 0 ? '0:' + format(datum.value, '02d') : ''", "labelFontSize": 8, "labelColor": "#444", "tickSize": 3, "tickColor": "#666", "domainColor": "#888", "labelPadding": 1, "labelOverlap": false, "labelFlush": false}}, "y": {"field": "v", "type": "quantitative", "scale": {"domain": [0, 250], "nice": false}, "axis": {"title": null, "values": [0,50,100,150,200,250], "labelFontSize": 8, "labelColor": "#444", "tickSize": 3, "tickColor": "#666", "domainColor": "#888", "labelPadding": 1, "grid": true, "gridColor": "#cccccc", "gridDash": [2, 2]}}}}
],
"resolve": {"scale": {"y": "independent"}}
}
]
},
{
"width": 20, "height": 530,
"data": {"values": [{"k": "O2 flow axis"}]},
"encoding": {"x": {"datum": 0.5, "type": "quantitative", "scale": {"domain": [0, 1]}, "axis": null}},
"layer": [
{"mark": {"type": "rule", "color": "black", "strokeWidth": 1.3},
 "encoding": {"y": {"datum": 0, "type": "quantitative", "scale": {"domain": [0, 1], "nice": false}, "axis": {"orient": "right", "title": ["O₂ Flow per cells", "[pmol/s/(1 x 10⁶ cells)]"], "titleColor": "#e02424", "titleFontSize": 13, "titleFontWeight": "bold", "titlePadding": 4, "titleLineHeight": 17, "labels": false, "ticks": false, "domain": false, "grid": false}}, "y2": {"datum": 0.957}}},
{"mark": {"type": "point", "shape": "triangle-up", "filled": true, "color": "black", "size": 45, "opacity": 1},
 "encoding": {"y": {"datum": 0.957, "type": "quantitative"}}}
]
}
]
},
{
"title": {"text": "B", "anchor": "start", "fontSize": 15, "fontWeight": "bold", "offset": 4, "dx": 4},
"bounds": "flush",
"spacing": 46,
"hconcat": [
{
"width": 120, "height": 136,
"encoding": {
"x": {"field": "g", "type": "nominal", "scale": {"type": "point", "domain": ["Control","OS","OS TAT","OS Mito","OS TAT-Mito"], "padding": 1}, "axis": {"labels": false, "ticks": false, "title": ["Routine", "(Basal)"], "titleFontSize": 12, "titleFontWeight": "bold", "titleColor": "black", "titlePadding": 8, "titleLineHeight": 16, "domainColor": "black", "domainWidth": 1.6}},
"y": {"field": "v", "type": "quantitative", "scale": {"domain": [0, 200], "nice": false}, "axis": {"values": [0,40,80,120,160,200], "format": "~r", "title": ["Respiration flux rate", "[pmol/s/(1 x 10⁶ cells)]"], "labelFontSize": 11, "labelFontWeight": "bold", "labelColor": "black", "domainColor": "black", "domainWidth": 1.6, "tickSize": 3, "tickColor": "black", "grid": false, "labelPadding": 3, "titleFontSize": 12.5, "titleFontWeight": "bold", "titleColor": "black", "titlePadding": 3, "titleLineHeight": 16}}
},
"layer": [
{"data": {"name": "pts"}, "transform": [{"filter": "datum.m === 'Routine'"}], "mark": {"type": "circle", "size": 50, "opacity": 1}, "encoding": {"color": {"field": "g", "type": "nominal", "title": null, "scale": {"domain": ["Control","OS","OS TAT","OS Mito","OS TAT-Mito"], "range": ["#000000","#5aaee6","#a5a5a5","#f2b52d","#b0101a"]}, "legend": {"orient": "none", "legendX": 266, "legendY": 930, "direction": "horizontal", "symbolType": "circle", "symbolSize": 110, "labelFontSize": 13, "labelFontWeight": "bold", "labelColor": "black", "columnPadding": 12, "labelOffset": 4, "padding": 0, "symbolStrokeWidth": 0, "symbolOpacity": 1}}}},
{"data": {"name": "sum"}, "transform": [{"filter": "datum.m === 'Routine'"}], "mark": {"type": "rule", "xOffset": 3, "color": "#222", "strokeWidth": 1.2}, "encoding": {"y": {"field": "lo", "type": "quantitative"}, "y2": {"field": "hi"}}},
{"data": {"name": "sum"}, "transform": [{"filter": "datum.m === 'Routine'"}, {"fold": ["lo", "hi"], "as": ["k", "c"]}], "mark": {"type": "tick", "xOffset": 3, "color": "#222", "size": 7, "thickness": 1.2}, "encoding": {"y": {"field": "c", "type": "quantitative"}}},
{"data": {"name": "sum"}, "transform": [{"filter": "datum.m === 'Routine'"}], "mark": {"type": "tick", "xOffset": 3, "color": "#222", "size": 12, "thickness": 1.5}},
{"data": {"name": "sig"}, "transform": [{"filter": "datum.m === 'Routine'"}], "mark": {"type": "text", "fontSize": 14, "baseline": "middle"}, "encoding": {"text": {"field": "s"}, "color": {"condition": {"test": "datum.s === '*' || datum.s === '**'", "value": "#8a8a8a"}, "value": "#000000"}}}
]
},
{
"width": 120, "height": 136,
"encoding": {
"x": {"field": "g", "type": "nominal", "scale": {"type": "point", "domain": ["Control","OS","OS TAT","OS Mito","OS TAT-Mito"], "padding": 1}, "axis": {"labels": false, "ticks": false, "title": "ETS", "titleFontSize": 12, "titleFontWeight": "bold", "titleColor": "black", "titlePadding": 8, "titleLineHeight": 16, "domainColor": "black", "domainWidth": 1.6}},
"y": {"field": "v", "type": "quantitative", "scale": {"domain": [0, 750], "nice": false}, "axis": {"values": [0,150,300,450,600,750], "format": "~r", "title": null, "labelFontSize": 11, "labelFontWeight": "bold", "labelColor": "black", "domainColor": "black", "domainWidth": 1.6, "tickSize": 3, "tickColor": "black", "grid": false, "labelPadding": 3}}
},
"layer": [
{"data": {"name": "pts"}, "transform": [{"filter": "datum.m === 'ETS'"}], "mark": {"type": "circle", "size": 50, "opacity": 1}, "encoding": {"color": {"field": "g", "type": "nominal", "title": null, "scale": {"domain": ["Control","OS","OS TAT","OS Mito","OS TAT-Mito"], "range": ["#000000","#5aaee6","#a5a5a5","#f2b52d","#b0101a"]}, "legend": {"orient": "none", "legendX": 266, "legendY": 930, "direction": "horizontal", "symbolType": "circle", "symbolSize": 110, "labelFontSize": 13, "labelFontWeight": "bold", "labelColor": "black", "columnPadding": 12, "labelOffset": 4, "padding": 0, "symbolStrokeWidth": 0, "symbolOpacity": 1}}}},
{"data": {"name": "sum"}, "transform": [{"filter": "datum.m === 'ETS'"}], "mark": {"type": "rule", "xOffset": 3, "color": "#222", "strokeWidth": 1.2}, "encoding": {"y": {"field": "lo", "type": "quantitative"}, "y2": {"field": "hi"}}},
{"data": {"name": "sum"}, "transform": [{"filter": "datum.m === 'ETS'"}, {"fold": ["lo", "hi"], "as": ["k", "c"]}], "mark": {"type": "tick", "xOffset": 3, "color": "#222", "size": 7, "thickness": 1.2}, "encoding": {"y": {"field": "c", "type": "quantitative"}}},
{"data": {"name": "sum"}, "transform": [{"filter": "datum.m === 'ETS'"}], "mark": {"type": "tick", "xOffset": 3, "color": "#222", "size": 12, "thickness": 1.5}},
{"data": {"name": "sig"}, "transform": [{"filter": "datum.m === 'ETS'"}], "mark": {"type": "text", "fontSize": 14, "baseline": "middle"}, "encoding": {"text": {"field": "s"}, "color": {"condition": {"test": "datum.s === '*' || datum.s === '**'", "value": "#8a8a8a"}, "value": "#000000"}}}
]
},
{
"width": 120, "height": 136,
"encoding": {
"x": {"field": "g", "type": "nominal", "scale": {"type": "point", "domain": ["Control","OS","OS TAT","OS Mito","OS TAT-Mito"], "padding": 1}, "axis": {"labels": false, "ticks": false, "title": ["Free routine activity", "(ATP production)"], "titleFontSize": 12, "titleFontWeight": "bold", "titleColor": "black", "titlePadding": 8, "titleLineHeight": 16, "domainColor": "black", "domainWidth": 1.6}},
"y": {"field": "v", "type": "quantitative", "scale": {"domain": [0, 100], "nice": false}, "axis": {"values": [0,20,40,60,80,100], "format": "~r", "title": null, "labelFontSize": 11, "labelFontWeight": "bold", "labelColor": "black", "domainColor": "black", "domainWidth": 1.6, "tickSize": 3, "tickColor": "black", "grid": false, "labelPadding": 3}}
},
"layer": [
{"data": {"name": "pts"}, "transform": [{"filter": "datum.m === 'FRA'"}], "mark": {"type": "circle", "size": 50, "opacity": 1}, "encoding": {"color": {"field": "g", "type": "nominal", "title": null, "scale": {"domain": ["Control","OS","OS TAT","OS Mito","OS TAT-Mito"], "range": ["#000000","#5aaee6","#a5a5a5","#f2b52d","#b0101a"]}, "legend": {"orient": "none", "legendX": 266, "legendY": 930, "direction": "horizontal", "symbolType": "circle", "symbolSize": 110, "labelFontSize": 13, "labelFontWeight": "bold", "labelColor": "black", "columnPadding": 12, "labelOffset": 4, "padding": 0, "symbolStrokeWidth": 0, "symbolOpacity": 1}}}},
{"data": {"name": "sum"}, "transform": [{"filter": "datum.m === 'FRA'"}], "mark": {"type": "rule", "xOffset": 3, "color": "#222", "strokeWidth": 1.2}, "encoding": {"y": {"field": "lo", "type": "quantitative"}, "y2": {"field": "hi"}}},
{"data": {"name": "sum"}, "transform": [{"filter": "datum.m === 'FRA'"}, {"fold": ["lo", "hi"], "as": ["k", "c"]}], "mark": {"type": "tick", "xOffset": 3, "color": "#222", "size": 7, "thickness": 1.2}, "encoding": {"y": {"field": "c", "type": "quantitative"}}},
{"data": {"name": "sum"}, "transform": [{"filter": "datum.m === 'FRA'"}], "mark": {"type": "tick", "xOffset": 3, "color": "#222", "size": 12, "thickness": 1.5}},
{"data": {"name": "sig"}, "transform": [{"filter": "datum.m === 'FRA'"}], "mark": {"type": "text", "fontSize": 14, "baseline": "middle"}, "encoding": {"text": {"field": "s"}, "color": {"condition": {"test": "datum.s === '*' || datum.s === '**'", "value": "#8a8a8a"}, "value": "#000000"}}}
]
},
{
"width": 120, "height": 136,
"encoding": {
"x": {"field": "g", "type": "nominal", "scale": {"type": "point", "domain": ["Control","OS","OS TAT","OS Mito","OS TAT-Mito"], "padding": 1}, "axis": {"labels": false, "ticks": false, "title": "Proton leakage", "titleFontSize": 12, "titleFontWeight": "bold", "titleColor": "black", "titlePadding": 8, "titleLineHeight": 16, "domainColor": "black", "domainWidth": 1.6}},
"y": {"field": "v", "type": "quantitative", "scale": {"domain": [0, 100], "nice": false}, "axis": {"values": [0,20,40,60,80,100], "format": "~r", "title": null, "labelFontSize": 11, "labelFontWeight": "bold", "labelColor": "black", "domainColor": "black", "domainWidth": 1.6, "tickSize": 3, "tickColor": "black", "grid": false, "labelPadding": 3}}
},
"layer": [
{"data": {"name": "pts"}, "transform": [{"filter": "datum.m === 'PL'"}], "mark": {"type": "circle", "size": 50, "opacity": 1}, "encoding": {"color": {"field": "g", "type": "nominal", "title": null, "scale": {"domain": ["Control","OS","OS TAT","OS Mito","OS TAT-Mito"], "range": ["#000000","#5aaee6","#a5a5a5","#f2b52d","#b0101a"]}, "legend": {"orient": "none", "legendX": 266, "legendY": 930, "direction": "horizontal", "symbolType": "circle", "symbolSize": 110, "labelFontSize": 13, "labelFontWeight": "bold", "labelColor": "black", "columnPadding": 12, "labelOffset": 4, "padding": 0, "symbolStrokeWidth": 0, "symbolOpacity": 1}}}},
{"data": {"name": "sum"}, "transform": [{"filter": "datum.m === 'PL'"}], "mark": {"type": "rule", "xOffset": 3, "color": "#222", "strokeWidth": 1.2}, "encoding": {"y": {"field": "lo", "type": "quantitative"}, "y2": {"field": "hi"}}},
{"data": {"name": "sum"}, "transform": [{"filter": "datum.m === 'PL'"}, {"fold": ["lo", "hi"], "as": ["k", "c"]}], "mark": {"type": "tick", "xOffset": 3, "color": "#222", "size": 7, "thickness": 1.2}, "encoding": {"y": {"field": "c", "type": "quantitative"}}},
{"data": {"name": "sum"}, "transform": [{"filter": "datum.m === 'PL'"}], "mark": {"type": "tick", "xOffset": 3, "color": "#222", "size": 12, "thickness": 1.5}},
{"data": {"name": "sig"}, "transform": [{"filter": "datum.m === 'PL'"}], "mark": {"type": "text", "fontSize": 14, "baseline": "middle"}, "encoding": {"text": {"field": "s"}, "color": {"condition": {"test": "datum.s === '*' || datum.s === '**'", "value": "#8a8a8a"}, "value": "#000000"}}}
]
}
]
},
{
"title": {"text": "C", "anchor": "start", "fontSize": 15, "fontWeight": "bold", "offset": 6, "dx": 4},
"bounds": "flush",
"spacing": 46,
"hconcat": [
{
"width": 120, "height": 140,
"encoding": {
"x": {"field": "g", "type": "nominal", "scale": {"type": "point", "domain": ["Control","OS","OS TAT","OS Mito","OS TAT-Mito"], "padding": 1}, "axis": {"labels": false, "ticks": false, "title": "R/E", "titleFontSize": 12, "titleFontWeight": "bold", "titleColor": "black", "titlePadding": 8, "domainColor": "black", "domainWidth": 1.6}},
"y": {"field": "v", "type": "quantitative", "scale": {"domain": [0, 2], "nice": false}, "axis": {"values": [0,0.5,1,1.5,2], "format": "~r", "title": "Flux control ratio", "labelFontSize": 11, "labelFontWeight": "bold", "labelColor": "black", "domainColor": "black", "domainWidth": 1.6, "tickSize": 3, "tickColor": "black", "grid": false, "labelPadding": 3, "titleFontSize": 12.5, "titleFontWeight": "bold", "titleColor": "black", "titlePadding": 11}}
},
"layer": [
{"data": {"name": "pts"}, "transform": [{"filter": "datum.m === 'RE'"}], "mark": {"type": "circle", "size": 50, "opacity": 1}, "encoding": {"color": {"field": "g", "type": "nominal", "title": null, "scale": {"domain": ["Control","OS","OS TAT","OS Mito","OS TAT-Mito"], "range": ["#000000","#5aaee6","#a5a5a5","#f2b52d","#b0101a"]}, "legend": {"orient": "none", "legendX": 266, "legendY": 930, "direction": "horizontal", "symbolType": "circle", "symbolSize": 110, "labelFontSize": 13, "labelFontWeight": "bold", "labelColor": "black", "columnPadding": 12, "labelOffset": 4, "padding": 0, "symbolStrokeWidth": 0, "symbolOpacity": 1}}}},
{"data": {"name": "sum"}, "transform": [{"filter": "datum.m === 'RE'"}], "mark": {"type": "rule", "xOffset": 3, "color": "#222", "strokeWidth": 1.2}, "encoding": {"y": {"field": "lo", "type": "quantitative"}, "y2": {"field": "hi"}}},
{"data": {"name": "sum"}, "transform": [{"filter": "datum.m === 'RE'"}, {"fold": ["lo", "hi"], "as": ["k", "c"]}], "mark": {"type": "tick", "xOffset": 3, "color": "#222", "size": 7, "thickness": 1.2}, "encoding": {"y": {"field": "c", "type": "quantitative"}}},
{"data": {"name": "sum"}, "transform": [{"filter": "datum.m === 'RE'"}], "mark": {"type": "tick", "xOffset": 3, "color": "#222", "size": 12, "thickness": 1.5}},
{"data": {"name": "sig"}, "transform": [{"filter": "datum.m === 'RE'"}], "mark": {"type": "text", "fontSize": 14, "baseline": "middle"}, "encoding": {"text": {"field": "s"}, "color": {"condition": {"test": "datum.s === '*' || datum.s === '**'", "value": "#8a8a8a"}, "value": "#000000"}}}
]
},
{
"width": 120, "height": 140,
"encoding": {
"x": {"field": "g", "type": "nominal", "scale": {"type": "point", "domain": ["Control","OS","OS TAT","OS Mito","OS TAT-Mito"], "padding": 1}, "axis": {"labels": false, "ticks": false, "title": "L/E", "titleFontSize": 12, "titleFontWeight": "bold", "titleColor": "black", "titlePadding": 8, "domainColor": "black", "domainWidth": 1.6}},
"y": {"field": "v", "type": "quantitative", "scale": {"domain": [0, 2], "nice": false}, "axis": {"values": [0,0.5,1,1.5,2], "format": "~r", "title": null, "labelFontSize": 11, "labelFontWeight": "bold", "labelColor": "black", "domainColor": "black", "domainWidth": 1.6, "tickSize": 3, "tickColor": "black", "grid": false, "labelPadding": 3}}
},
"layer": [
{"data": {"name": "pts"}, "transform": [{"filter": "datum.m === 'LE'"}], "mark": {"type": "circle", "size": 50, "opacity": 1}, "encoding": {"color": {"field": "g", "type": "nominal", "title": null, "scale": {"domain": ["Control","OS","OS TAT","OS Mito","OS TAT-Mito"], "range": ["#000000","#5aaee6","#a5a5a5","#f2b52d","#b0101a"]}, "legend": {"orient": "none", "legendX": 266, "legendY": 930, "direction": "horizontal", "symbolType": "circle", "symbolSize": 110, "labelFontSize": 13, "labelFontWeight": "bold", "labelColor": "black", "columnPadding": 12, "labelOffset": 4, "padding": 0, "symbolStrokeWidth": 0, "symbolOpacity": 1}}}},
{"data": {"name": "sum"}, "transform": [{"filter": "datum.m === 'LE'"}], "mark": {"type": "rule", "xOffset": 3, "color": "#222", "strokeWidth": 1.2}, "encoding": {"y": {"field": "lo", "type": "quantitative"}, "y2": {"field": "hi"}}},
{"data": {"name": "sum"}, "transform": [{"filter": "datum.m === 'LE'"}, {"fold": ["lo", "hi"], "as": ["k", "c"]}], "mark": {"type": "tick", "xOffset": 3, "color": "#222", "size": 7, "thickness": 1.2}, "encoding": {"y": {"field": "c", "type": "quantitative"}}},
{"data": {"name": "sum"}, "transform": [{"filter": "datum.m === 'LE'"}], "mark": {"type": "tick", "xOffset": 3, "color": "#222", "size": 12, "thickness": 1.5}}
]
},
{
"width": 120, "height": 140,
"encoding": {
"x": {"field": "g", "type": "nominal", "scale": {"type": "point", "domain": ["Control","OS","OS TAT","OS Mito","OS TAT-Mito"], "padding": 1}, "axis": {"labels": false, "ticks": false, "title": "(R-L)/E", "titleFontSize": 12, "titleFontWeight": "bold", "titleColor": "black", "titlePadding": 8, "domainColor": "black", "domainWidth": 1.6}},
"y": {"field": "v", "type": "quantitative", "scale": {"domain": [0, 0.4], "nice": false}, "axis": {"values": [0,0.1,0.2,0.3,0.4], "format": "~r", "title": null, "labelFontSize": 11, "labelFontWeight": "bold", "labelColor": "black", "domainColor": "black", "domainWidth": 1.6, "tickSize": 3, "tickColor": "black", "grid": false, "labelPadding": 3}}
},
"layer": [
{"data": {"name": "pts"}, "transform": [{"filter": "datum.m === 'RLE'"}], "mark": {"type": "circle", "size": 50, "opacity": 1}, "encoding": {"color": {"field": "g", "type": "nominal", "title": null, "scale": {"domain": ["Control","OS","OS TAT","OS Mito","OS TAT-Mito"], "range": ["#000000","#5aaee6","#a5a5a5","#f2b52d","#b0101a"]}, "legend": {"orient": "none", "legendX": 266, "legendY": 930, "direction": "horizontal", "symbolType": "circle", "symbolSize": 110, "labelFontSize": 13, "labelFontWeight": "bold", "labelColor": "black", "columnPadding": 12, "labelOffset": 4, "padding": 0, "symbolStrokeWidth": 0, "symbolOpacity": 1}}}},
{"data": {"name": "sum"}, "transform": [{"filter": "datum.m === 'RLE'"}], "mark": {"type": "rule", "xOffset": 3, "color": "#222", "strokeWidth": 1.2}, "encoding": {"y": {"field": "lo", "type": "quantitative"}, "y2": {"field": "hi"}}},
{"data": {"name": "sum"}, "transform": [{"filter": "datum.m === 'RLE'"}, {"fold": ["lo", "hi"], "as": ["k", "c"]}], "mark": {"type": "tick", "xOffset": 3, "color": "#222", "size": 7, "thickness": 1.2}, "encoding": {"y": {"field": "c", "type": "quantitative"}}},
{"data": {"name": "sum"}, "transform": [{"filter": "datum.m === 'RLE'"}], "mark": {"type": "tick", "xOffset": 3, "color": "#222", "size": 12, "thickness": 1.5}}
]
},
{
"width": 120, "height": 140,
"encoding": {
"x": {"field": "g", "type": "nominal", "scale": {"type": "point", "domain": ["Control","OS","OS TAT","OS Mito","OS TAT-Mito"], "padding": 1}, "axis": {"labels": false, "ticks": false, "title": "Rox/E'", "titleFontSize": 12, "titleFontWeight": "bold", "titleColor": "black", "titlePadding": 8, "domainColor": "black", "domainWidth": 1.6}},
"y": {"field": "v", "type": "quantitative", "scale": {"domain": [0, 0.8], "nice": false}, "axis": {"values": [0,0.2,0.4,0.6,0.8], "format": "~r", "title": null, "labelFontSize": 11, "labelFontWeight": "bold", "labelColor": "black", "domainColor": "black", "domainWidth": 1.6, "tickSize": 3, "tickColor": "black", "grid": false, "labelPadding": 3}}
},
"layer": [
{"data": {"name": "pts"}, "transform": [{"filter": "datum.m === 'ROX'"}], "mark": {"type": "circle", "size": 50, "opacity": 1}, "encoding": {"color": {"field": "g", "type": "nominal", "title": null, "scale": {"domain": ["Control","OS","OS TAT","OS Mito","OS TAT-Mito"], "range": ["#000000","#5aaee6","#a5a5a5","#f2b52d","#b0101a"]}, "legend": {"orient": "none", "legendX": 266, "legendY": 930, "direction": "horizontal", "symbolType": "circle", "symbolSize": 110, "labelFontSize": 13, "labelFontWeight": "bold", "labelColor": "black", "columnPadding": 12, "labelOffset": 4, "padding": 0, "symbolStrokeWidth": 0, "symbolOpacity": 1}}}},
{"data": {"name": "sum"}, "transform": [{"filter": "datum.m === 'ROX'"}], "mark": {"type": "rule", "xOffset": 3, "color": "#222", "strokeWidth": 1.2}, "encoding": {"y": {"field": "lo", "type": "quantitative"}, "y2": {"field": "hi"}}},
{"data": {"name": "sum"}, "transform": [{"filter": "datum.m === 'ROX'"}, {"fold": ["lo", "hi"], "as": ["k", "c"]}], "mark": {"type": "tick", "xOffset": 3, "color": "#222", "size": 7, "thickness": 1.2}, "encoding": {"y": {"field": "c", "type": "quantitative"}}},
{"data": {"name": "sum"}, "transform": [{"filter": "datum.m === 'ROX'"}], "mark": {"type": "tick", "xOffset": 3, "color": "#222", "size": 12, "thickness": 1.5}}
]
}
]
}
],
"config": {
"font": "Liberation Sans",
"view": {"stroke": null},
"title": {"color": "black"},
"axisX": {"labelOverlap": false}
}
}
